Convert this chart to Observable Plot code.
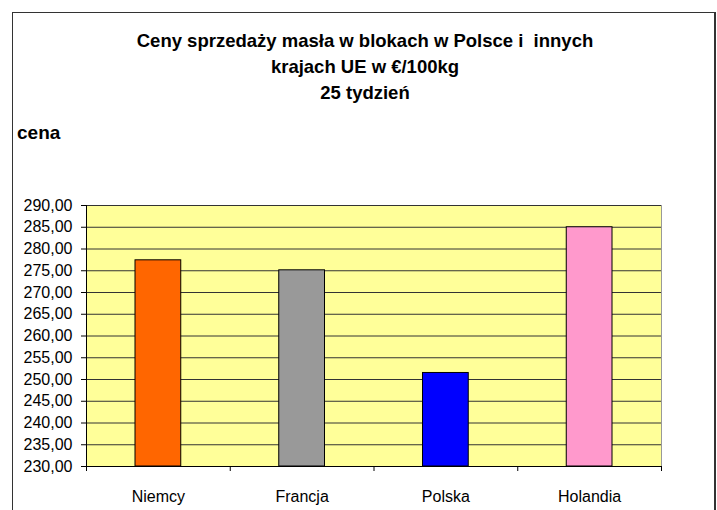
<!DOCTYPE html>
<html><head><meta charset="utf-8">
<script src="https://cdn.jsdelivr.net/npm/d3@7"></script>
<script src="https://cdn.jsdelivr.net/npm/@observablehq/plot@0.6"></script>
<style>
body{margin:0;background:#fff;font-family:"Liberation Sans",Arial,sans-serif;color:#000;}
#wrap{position:relative;width:717px;height:510px;overflow:hidden;background:#fff;}
#border{position:absolute;left:12px;top:12px;width:701px;height:600px;border:1px solid #333;border-right-width:2px;}
.title{position:absolute;left:0;width:730px;top:28px;text-align:center;font-weight:bold;font-size:18.5px;line-height:26px;}
#ylab{position:absolute;left:17px;top:123px;font-weight:bold;font-size:19px;line-height:19px;}
#chart{position:absolute;left:0;top:190px;}
</style></head>
<body>
<div id="wrap">
  <div id="border"></div>
  <div class="title">Ceny sprzedaży masła w blokach w Polsce i&nbsp;&nbsp;innych<br>krajach UE w €/100kg<br>25 tydzień</div>
  <div id="ylab">cena</div>
  <div id="chart"></div>
</div>
<script>
const categories = ["Niemcy", "Francja", "Polska", "Holandia"];
const prices = [277.4, 275.1, 251.5, 285.0];
const barColors = ["#FF6600", "#999999", "#0000FF", "#FF99CC"];
const yTicks = [230, 235, 240, 245, 250, 255, 260, 265, 270, 275, 280, 285, 290];
const yDomain = [230, 290];

const data = categories.map((c, i) => ({c, i, v: prices[i], color: barColors[i]}));
const fmt = v => d3.format(".2f")(v).replace(".", ",");

const chart = Plot.plot({
  width: 717, height: 320,
  marginTop: 15, marginBottom: 44, marginLeft: 86, marginRight: 56,
  style: {fontFamily: "'Liberation Sans', Arial, sans-serif", fontSize: "16px", color: "#000", background: "transparent"},
  x: {type: "linear", domain: [0, categories.length]},
  y: {domain: yDomain},
  color: {type: "identity"},
  marks: [
    Plot.frame({fill: "#FFFF99", stroke: "#999"}),
    Plot.gridY(yTicks, {stroke: "#333", strokeOpacity: 1}),
    Plot.rectY(data, {x1: d => d.i, x2: d => d.i + 1, y1: () => yDomain[0], y2: "v", fill: "color", stroke: "#000", strokeWidth: 1, insetLeft: 49, insetRight: 49}),
    Plot.ruleX([0], {stroke: "#000"}),
    Plot.ruleY([yDomain[0]], {stroke: "#000"}),
    Plot.axisY(yTicks, {tickSize: 5, tickPadding: 9, tickFormat: fmt, label: null, stroke: "#000"}),
    Plot.axisX(d3.range(categories.length + 1), {tickSize: 5, tickFormat: () => "", label: null, stroke: "#000"}),
    Plot.axisX(categories.map((c, i) => i + 0.5), {tickSize: 0, tickPadding: 24, tickFormat: v => categories[Math.floor(v)], label: null})
  ]
});
document.getElementById("chart").appendChild(chart);
</script>
</body></html>
